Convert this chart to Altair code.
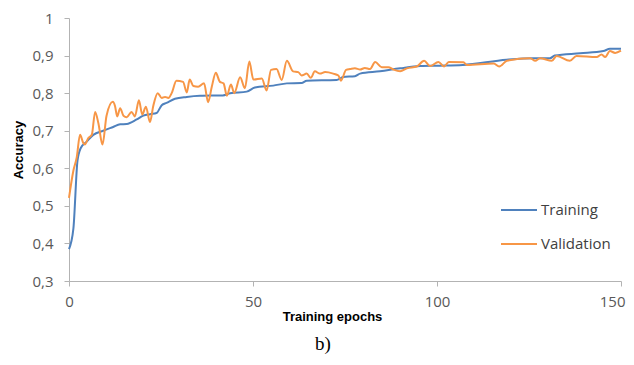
import altair as alt
import pandas as pd

train_epoch = [0, 1.2, 2.3, 3.2, 4.8, 6.6, 9.3, 12, 13.9, 15.7, 18.4, 20.2, 22, 23.8, 25.2,
               26.5, 28.8, 32, 35.6, 41.8, 43.8, 48.3, 50.5, 55.5, 59.2, 63.2, 64.6, 72.7,
               74.5, 77.7, 79.1, 84.5, 90, 95.4, 100.8, 107, 118.9, 126.2, 130.7, 132,
               138.9, 145.2, 147, 150]
train_acc = [0.385, 0.44, 0.62, 0.654, 0.671, 0.689, 0.70, 0.71, 0.717, 0.718, 0.73, 0.74,
             0.744, 0.747, 0.768, 0.774, 0.785, 0.79, 0.793, 0.794, 0.80, 0.804, 0.815,
             0.82, 0.826, 0.827, 0.833, 0.835, 0.843, 0.845, 0.852, 0.858, 0.866, 0.872,
             0.873, 0.875, 0.889, 0.893, 0.893, 0.90, 0.906, 0.912, 0.918, 0.918]

val_epoch = [0, 1.2, 2.1, 3, 3.9, 4.3, 5.2, 6.2, 7.1, 8, 9.1, 10.2, 11.9, 12.5, 13.1, 13.9,
             14.8, 15.7, 17, 17.9, 19, 19.9, 20.9, 22, 22.9, 24.1, 25.2, 26.1, 27, 27.9,
             29.2, 31, 32, 32.8, 33.8, 35.1, 36.7, 37.8, 38.8, 39.9, 41, 42, 42.9, 44,
             44.9, 46.5, 47.8, 49, 50.1, 52.4, 53.7, 54.9, 56.4, 57.8, 59.2, 60.9, 62.3,
             63.2, 64.6, 65.7, 66.8, 68.2, 69.6, 71.8, 73.2, 73.9, 75.3, 76.4, 77.7, 79.1,
             80.4, 81.8, 83.2, 85, 86.8, 88.1, 90, 91.8, 94.5, 96.5, 98.1, 100.4, 101.9,
             103.2, 107.2, 108.1, 115.4, 116.9, 119, 125.3, 126.7, 128, 131.2, 132.5,
             136.1, 137.9, 143.4, 144.7, 145.7, 147, 148.4, 150]
val_acc = [0.521, 0.594, 0.629, 0.689, 0.667, 0.663, 0.68, 0.689, 0.75, 0.719, 0.663, 0.74,
           0.777, 0.766, 0.738, 0.76, 0.74, 0.736, 0.75, 0.738, 0.781, 0.743, 0.764, 0.723,
           0.766, 0.80, 0.787, 0.79, 0.787, 0.80, 0.833, 0.83, 0.802, 0.836, 0.819, 0.817,
           0.826, 0.776, 0.817, 0.854, 0.83, 0.826, 0.793, 0.823, 0.80, 0.842, 0.813, 0.884,
           0.836, 0.839, 0.807, 0.862, 0.864, 0.835, 0.886, 0.858, 0.856, 0.847, 0.852,
           0.841, 0.858, 0.852, 0.856, 0.852, 0.847, 0.833, 0.862, 0.864, 0.866, 0.863,
           0.867, 0.864, 0.883, 0.869, 0.869, 0.863, 0.858, 0.866, 0.871, 0.886, 0.872,
           0.883, 0.871, 0.883, 0.882, 0.875, 0.879, 0.871, 0.886, 0.893, 0.886, 0.893,
           0.886, 0.899, 0.886, 0.899, 0.896, 0.903, 0.896, 0.912, 0.907, 0.913]

series_names = ["Training", "Validation"]
series_colors = ["#4F81BD", "#F79646"]
x_ticks = [0, 50, 100, 150]
y_ticks = [0.3, 0.4, 0.5, 0.6, 0.7, 0.8, 0.9, 1.0]

df = pd.concat([
    pd.DataFrame({"epoch": train_epoch, "acc": train_acc, "series": series_names[0]}),
    pd.DataFrame({"epoch": val_epoch, "acc": val_acc, "series": series_names[1]}),
])

axis_gray = "#B3B3B3"
label_color = "#595959"

chart = alt.Chart(df).mark_line(strokeWidth=2, interpolate="monotone").encode(
    x=alt.X("epoch:Q",
            scale=alt.Scale(domain=[0, 150], nice=False, zero=False),
            axis=alt.Axis(values=x_ticks, title="Training epochs", grid=False,
                          domainColor=axis_gray, tickColor=axis_gray, tickSize=5,
                          labelFont="Open Sans", labelFontSize=15, labelColor=label_color,
                          labelPadding=8, labelFlush=False,
                          labelAlign=alt.condition("datum.value == 150", alt.value("right"), alt.value("center")),
                          labelOffset=alt.condition("datum.value == 150", alt.value(4), alt.value(0)),
                          titleFont="Liberation Sans", titleFontSize=13, titleFontWeight="bold",
                          titleColor="#000000", titleX=263, titleY=35, titleBaseline="middle")),
    y=alt.Y("acc:Q",
            scale=alt.Scale(domain=[0.3, 1.0], nice=False, zero=False),
            axis=alt.Axis(values=y_ticks, title="Accuracy", grid=False,
                          domainColor=axis_gray, tickColor=axis_gray, tickSize=5,
                          labelFont="Open Sans", labelFontSize=15, labelColor=label_color,
                          labelPadding=11, labelFlush=False,
                          labelExpr="datum.value == 1 ? '1' : replace(format(datum.value, '.1f'), '.', ',')",
                          titleFont="Liberation Sans", titleFontSize=13, titleFontWeight="bold",
                          titleColor="#000000", titlePadding=6)),
    color=alt.Color("series:N",
                    scale=alt.Scale(domain=series_names, range=series_colors),
                    legend=alt.Legend(title=None, orient="none", legendX=431, legendY=173,
                                      symbolType="stroke", symbolSize=1296, symbolStrokeWidth=2,
                                      labelFont="Open Sans", labelFontSize=15,
                                      labelColor="#404040", labelOffset=3, rowPadding=7,
                                      padding=0)),
).properties(
    width=552,
    height=263,
    padding={"left": 61, "top": 10, "right": 5, "bottom": 73},
    autosize=alt.AutoSizeParams(type="none"),
    title=alt.TitleParams("b)", orient="bottom", anchor="middle", dx=-22, offset=12,
                          font="Liberation Serif", fontSize=19, fontWeight="normal",
                          color="#000000"),
).configure_view(stroke=None)

chart.save("out.html", embed_options={"renderer": "svg", "actions": False})
